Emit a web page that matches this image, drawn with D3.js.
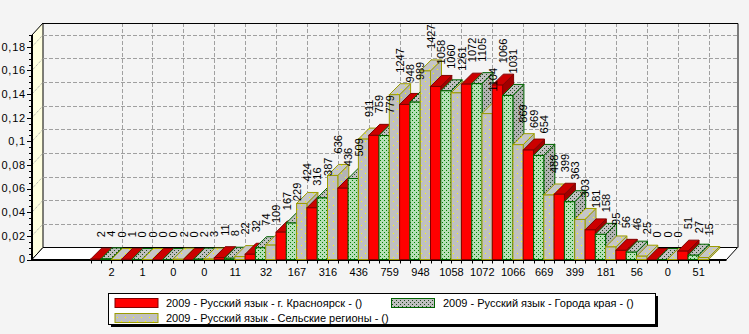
<!DOCTYPE html>
<html><head><meta charset="utf-8">
<script src="https://cdn.jsdelivr.net/npm/d3@7"></script>
<style>
html,body{margin:0;padding:0;background:#f4f4f4;}
svg{display:block;font-family:"Liberation Sans",Arial,sans-serif;}
</style></head><body>
<svg id="chart" width="749" height="334"></svg>
<script>
// ---- data ----
const categories = ["2","1","0","0","11","32","167","316","436","759","948","1058","1072","1066","669","399","181","56","0","51"];
const krasnoyarsk = [2,1,0,0,11,32,167,316,436,759,948,1058,1072,1066,669,399,181,56,0,51];
const cities      = [4,0,0,2,8,74,229,387,509,779,989,1060,1105,1031,654,363,158,46,0,27];
const rural       = [0,0,2,3,22,109,424,636,911,1247,1427,1261,1104,869,488,303,95,25,0,15];
const seriesNames = [
  "2009 - Русский язык - г. Красноярск - ()",
  "2009 - Русский язык - Города края - ()",
  "2009 - Русский язык - Сельские регионы - ()"
];
const yTickValues = [0,0.02,0.04,0.06,0.08,0.1,0.12,0.14,0.16,0.18];
const yTickLabels = ["0","0,02","0,04","0,06","0,08","0,1","0,12","0,14","0,16","0,18"];

const seriesCounts = [krasnoyarsk, cities, rural];

// ---- geometry ----
const svg = d3.select("#chart");
const FL = 32, FR = 726.5, FB = 259.5, FT = 35, DX = 11, DY = 12, BDX = 11, BDY = 11;
const y = d3.scaleLinear().domain([0, 0.19]).range([FB, FT]);
const x = d3.scaleBand().domain(d3.range(categories.length)).range([90.6, 708.6]).padding(0);
const bw = x.bandwidth() / 3;

// ---- patterns ----
const defs = svg.append("defs");
function dotPattern(id, bg, dot, size, pts) {
  const p = defs.append("pattern").attr("id", id).attr("patternUnits", "userSpaceOnUse")
    .attr("width", size).attr("height", size);
  p.append("rect").attr("width", size).attr("height", size).attr("fill", bg);
  pts.forEach(([a, b]) => p.append("rect").attr("x", a).attr("y", b).attr("width", 1).attr("height", 1).attr("fill", dot));
}
dotPattern("gFront", "#b6dfb6", "#008000", 4, [[0,0],[2,2]]);
dotPattern("gTop", "#c0c0c0", "#1e4a1e", 4, [[0,0],[2,2]]);
dotPattern("gSide", "#b2b2b2", "#1e4a1e", 4, [[0,0],[2,2]]);
dotPattern("sFront", "#c0c0c0", "#ffff00", 8, [[1,1],[5,5]]);
dotPattern("sTop", "#c6c6c6", "#ffff00", 8, [[1,1],[5,5]]);
dotPattern("sSide", "#b4b4b4", "#ffff00", 8, [[1,1],[5,5]]);

const styles = [
  {front: "#ff0000", top: "#cc0000", side: "#a00000", stroke: "#800000"},
  {front: "url(#gFront)", top: "url(#gTop)", side: "url(#gSide)", stroke: "#006400"},
  {front: "url(#sFront)", top: "url(#sTop)", side: "url(#sSide)", stroke: "#9c9c00"}
];

// ---- walls ----
const g = svg.append("g");
g.append("rect").attr("x", FL + DX).attr("y", FT - DY).attr("width", FR - FL).attr("height", FB - FT)
  .attr("fill", "#f4f4f4");
g.append("polygon").attr("points", [[FL,FB],[FL,FT],[FL+DX,FT-DY],[FL+DX,FB-DY]].join(" "))
  .attr("fill", "#ffffe0").attr("stroke", "#000").attr("stroke-width", 1);
yTickValues.filter(v => v > 0).forEach(v => {
  g.append("line").attr("x1", FL + DX).attr("x2", FR + DX).attr("y1", Math.round(y(v) - DY) + 0.5).attr("y2", Math.round(y(v) - DY) + 0.5)
    .attr("stroke", "#a0a0a0").attr("stroke-dasharray", "4,2");
  g.append("line").attr("x1", FL).attr("x2", FL + DX).attr("y1", y(v)).attr("y2", y(v) - DY)
    .attr("stroke", "#a0a0a0").attr("stroke-dasharray", "1,1");
});
d3.range(categories.length).forEach(k => {
  const gx = Math.round(x(k) + x.bandwidth()) + 0.5;
  g.append("line").attr("x1", gx).attr("x2", gx).attr("y1", FT - DY).attr("y2", FB - DY)
    .attr("stroke", "#a0a0a0").attr("stroke-dasharray", "4,2");
});
g.append("polyline").attr("points", [[FL+DX, FT-DY+0.5],[FR+DX+0.5, FT-DY+0.5],[FR+DX+0.5, FB-DY]].join(" "))
  .attr("fill", "none").attr("stroke", "#000");
g.append("polygon").attr("points", [[FL,FB],[FR,FB],[FR+DX,FB-DY],[FL+DX,FB-DY]].join(" "))
  .attr("fill", "#fff").attr("stroke", "#000");
g.append("line").attr("x1", FL).attr("x2", FR).attr("y1", FB + 0.5).attr("y2", FB + 0.5)
  .attr("stroke", "#000").attr("stroke-width", 2);

// ---- bars ----
const bars = svg.append("g");
const labelG = svg.append("g").attr("font-size", "11px").attr("fill", "#000");
d3.range(categories.length).forEach(k => {
  seriesCounts.forEach((arr, s) => {
    const total = d3.sum(arr);
    const v = arr[k] / total;
    const x0 = x(k) + s * bw, x1 = x0 + bw;
    const yt = y(v), yb = FB;
    const st = styles[s];
    bars.append("polygon").attr("points", [[x1,yt],[x1+BDX,yt-BDY],[x1+BDX,yb-BDY],[x1,yb]].join(" "))
      .attr("fill", st.side).attr("stroke", st.stroke).attr("stroke-width", 1);
    bars.append("polygon").attr("points", [[x0,yt],[x1,yt],[x1+BDX,yt-BDY],[x0+BDX,yt-BDY]].join(" "))
      .attr("fill", st.top).attr("stroke", st.stroke).attr("stroke-width", 1);
    bars.append("rect").attr("x", x0).attr("y", yt).attr("width", bw).attr("height", Math.max(0, yb - yt))
      .attr("fill", st.front).attr("stroke", st.stroke).attr("stroke-width", 1);
    labelG.append("text")
      .attr("transform", `translate(${x0 + bw / 2 + BDX / 2},${yt - 22}) rotate(-90)`)
      .attr("dy", "0.35em").attr("text-anchor", "start")
      .text(arr[k]);
  });
});

// ---- axes ----
const ax = svg.append("g");
ax.append("line").attr("x1", FL).attr("x2", FL).attr("y1", FT).attr("y2", FB + 1)
  .attr("stroke", "#000").attr("stroke-width", 2);
d3.range(0, 0.1901, 0.005).forEach(v => {
  const major = yTickValues.some(t => Math.abs(t - v) < 1e-9);
  const yy = Math.round(y(v)) + 0.5;
  ax.append("line").attr("x1", major ? 27 : 29).attr("x2", FL).attr("y1", yy).attr("y2", yy).attr("stroke", "#000");
});
ax.selectAll("text.yl").data(yTickValues).enter().append("text").attr("class", "yl")
  .attr("x", 26).attr("y", d => y(d)).attr("dy", "0.35em").attr("text-anchor", "end")
  .attr("font-size", "11px").attr("letter-spacing", "0.8px").text((d, i) => yTickLabels[i]);
d3.range(0, 62).forEach(j => {
  const tx = Math.round(x.range()[0] + j * bw) + 0.5;
  if (tx <= FR) ax.append("line").attr("x1", tx).attr("x2", tx).attr("y1", FB + 1).attr("y2", FB + 4).attr("stroke", "#000");
});
ax.selectAll("text.xl").data(categories).enter().append("text").attr("class", "xl")
  .attr("x", (d, i) => x(i) + x.bandwidth() / 2 + BDX / 2).attr("y", 276)
  .attr("text-anchor", "middle").attr("font-size", "11px").text(d => d);

// ---- legend ----
const lg = svg.append("g");
lg.append("rect").attr("x", 111).attr("y", 296).attr("width", 547).attr("height", 31).attr("fill", "#000");
lg.append("rect").attr("x", 108.5).attr("y", 293.5).attr("width", 547).attr("height", 31).attr("fill", "#fff").attr("stroke", "#000");
const legendItems = [
  {sx: 115, sy: 298.5, tx: 166, ty: 303.5, fill: "#ff0000", stroke: "#800000"},
  {sx: 391.5, sy: 298.5, tx: 443, ty: 303.5, fill: "url(#gTop)", stroke: "#006400"},
  {sx: 115, sy: 313.5, tx: 166, ty: 318.5, fill: "url(#sFront)", stroke: "#9c9c00"}
];
legendItems.forEach((it, i) => {
  lg.append("rect").attr("x", it.sx).attr("y", it.sy).attr("width", 43).attr("height", 9)
    .attr("fill", it.fill).attr("stroke", it.stroke);
  lg.append("text").attr("x", it.tx).attr("y", it.ty).attr("dy", "0.35em").attr("font-size", "11px")
    .text(seriesNames[i]);
});
</script>
</body></html>
